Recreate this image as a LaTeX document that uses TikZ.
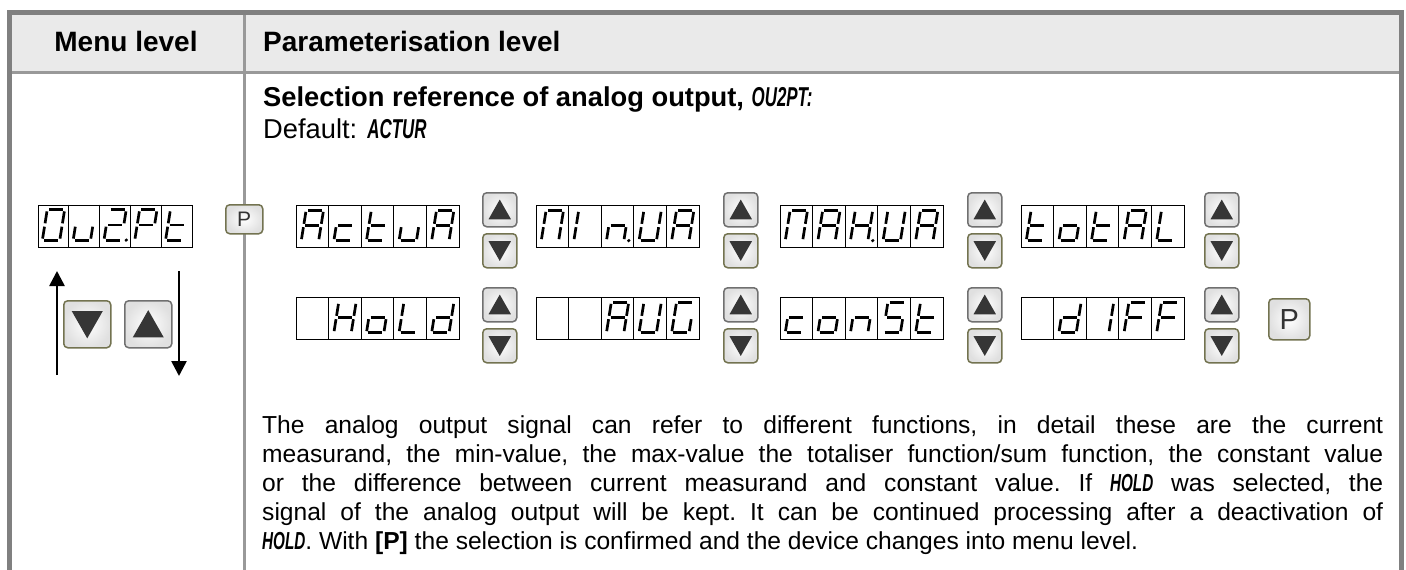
\documentclass[tikz,border=0pt]{standalone}
\usepackage{fontspec}
\setmainfont{Liberation Sans}
\newfontfamily\digifont[FakeStretch=0.62]{Liberation Sans}
\usetikzlibrary{arrows.meta,calc}
\definecolor{framegray}{HTML}{808080}
\definecolor{hdrgray}{HTML}{EAEAEA}
\definecolor{linegray}{HTML}{999999}
\definecolor{olivebd}{HTML}{737350}
\definecolor{graybd}{HTML}{707070}
\definecolor{trigray}{HTML}{363636}
\definecolor{ptext}{HTML}{333333}
\newcommand\digitxt[1]{{\digifont\bfseries\itshape #1}}
\tikzset{
  seg/.style={line width=2.7pt, shorten <=1.7pt, shorten >=1.7pt},
  dispbox/.style={draw=black, line width=1.2pt, inner sep=0pt, anchor=north west},
  celldiv/.style={draw=black, line width=1.2pt},
  btn/.style={rounded corners=4pt, line width=1.5pt, inner color=white, outer color=black!12, inner sep=0pt, anchor=north west},
  btnup/.style={btn, draw=graybd},
  btndn/.style={btn, draw=olivebd},
  pbtn/.style={btn, draw=olivebd, text=ptext},
  trifill/.style={fill=trigray},
  marr/.style={line width=2.6pt, -{Triangle[width=15pt,length=15pt]}},
  hdr/.style={font=\fontsize{28}{30}\selectfont\bfseries, inner sep=0pt},
  bodytxt/.style={font=\fontsize{27.3}{30}\selectfont, inner sep=0pt},
  paratxt/.style={font=\fontsize{24.6}{29}\selectfont, inner sep=0pt},
}
\newcommand\segdraw[1]{%
  \if#1a\draw[seg] (TL)--(TR);\fi
  \if#1b\draw[seg] (TR)--(MR);\fi
  \if#1c\draw[seg] (MR)--(BR);\fi
  \if#1d\draw[seg] (BL)--(BR);\fi
  \if#1e\draw[seg] (BL)--(ML);\fi
  \if#1f\draw[seg] (ML)--(TL);\fi
  \if#1g\draw[seg] (ML)--(MR);\fi
  \if#1p\fill (DP) circle (1.8);\fi
}
\newcommand\sevcell[4]{%
  \begin{scope}[shift={({#1+(#3)/2},{#2+21})}, xslant=0.16]
    \coordinate (TL) at (-8.7,-15.8);
    \coordinate (TR) at (8.7,-15.8);
    \coordinate (ML) at (-8.7,-0.5);
    \coordinate (MR) at (8.7,-0.5);
    \coordinate (BL) at (-8.7,14.8);
    \coordinate (BR) at (8.7,14.8);
    \coordinate (DP) at (13.6,14.6);
    \foreach \s in {#4}{\segdraw{\s}}
  \end{scope}}
\newcommand\sevdisp[9]{%
  \node[dispbox, minimum width=#4pt, minimum height=42pt] (#1) at (#2,#3) {};
  \foreach \k in {1,2,3,4}{\draw[celldiv] ({#2+\k*(#4)/5},#3) -- ({#2+\k*(#4)/5},{#3+42});}
  \sevcell{#2}{#3}{#4/5}{#5}%
  \sevcell{#2+#4/5}{#3}{#4/5}{#6}%
  \sevcell{#2+2*#4/5}{#3}{#4/5}{#7}%
  \sevcell{#2+3*#4/5}{#3}{#4/5}{#8}%
  \sevcell{#2+4*#4/5}{#3}{#4/5}{#9}}
\newcommand\upbtn[4]{%
  \node[btnup, minimum width=#4pt, minimum height=#4pt] (#1) at (#2,#3) {};
  \fill[trifill] ($(#1.center)+(0,{-0.30*#4})$) -- ($(#1.center)+({0.33*#4},{0.28*#4})$) -- ($(#1.center)+({-0.33*#4},{0.28*#4})$) -- cycle;}
\newcommand\dnbtn[4]{%
  \node[btndn, minimum width=#4pt, minimum height=#4pt] (#1) at (#2,#3) {};
  \fill[trifill] ($(#1.center)+(0,{0.30*#4})$) -- ($(#1.center)+({0.33*#4},{-0.28*#4})$) -- ($(#1.center)+({-0.33*#4},{-0.28*#4})$) -- cycle;}
\begin{document}
\begin{tikzpicture}[x=1pt,y=-1pt]
\useasboundingbox[fill=white] (0,0) rectangle (1406,570);
% header
\fill[hdrgray] (9,12.5) rectangle (1401,72.5);
\draw[linegray, line width=2.5pt] (9,72.5) -- (1401,72.5);
\draw[linegray, line width=2.5pt] (244.5,12.5) -- (244.5,570);
\draw[framegray, line width=5pt] (9,570) -- (9,12.5) -- (1401,12.5) -- (1401,570);
\node[hdr, anchor=base] (mh) at (126,51.7) {Menu level};
\node[hdr, anchor=base west] (ph) at (263,51.7) {Parameterisation level};
% titles
\node[bodytxt, anchor=base west, font=\fontsize{27.3}{30}\selectfont\bfseries] (title) at (263,106.7) {Selection reference of analog output, \digitxt{OU2PT:}};
\node[bodytxt, anchor=base west] (deflt) at (263,138.3) {Default: \digitxt{ACTUR}};
% menu display
\sevdisp{d0}{38}{204.5}{154}{a,b,c,d,e,f}{c,d,e}{a,b,g,e,d,p}{a,b,f,g,e}{d,e,f,g}
\node[pbtn, minimum width=37pt, minimum height=29pt, font=\fontsize{21}{21}\selectfont] (p1) at (225,204) {P};
\dnbtn{mdn}{63}{300}{47}
\upbtn{mup}{124}{300}{47}
\coordinate (ua1) at (57,375);
\coordinate (ua2) at (57,271);
\coordinate (da1) at (179,271);
\coordinate (da2) at (179,376);
\draw[marr] (ua1) -- (ua2);
\draw[marr] (da1) -- (da2);
% row 1
\sevdisp{d1}{296}{205}{163}{a,b,c,e,f,g}{d,e,g}{d,e,f,g}{c,d,e}{a,b,c,e,f,g}
\sevdisp{d2}{536}{205}{163}{a,b,c,e,f}{e,f}{c,e,g,p}{b,c,d,e,f}{a,b,c,e,f,g}
\sevdisp{d3}{780}{205}{163}{a,b,c,e,f}{a,b,c,e,f,g}{b,c,e,f,g,p}{b,c,d,e,f}{a,b,c,e,f,g}
\sevdisp{d4}{1021}{205}{163}{d,e,f,g}{c,d,e,g}{d,e,f,g}{a,b,c,e,f,g}{d,e,f}
% row 2
\sevdisp{d5}{296}{297}{163}{x}{b,c,e,f,g}{c,d,e,g}{d,e,f}{b,c,d,e,g}
\sevdisp{d6}{536}{297}{163}{x}{x}{a,b,c,e,f,g}{b,c,d,e,f}{a,c,d,e,f}
\sevdisp{d7}{780}{297}{163}{d,e,g}{c,d,e,g}{c,e,g}{a,c,d,f,g}{d,e,f,g}
\sevdisp{d8}{1021}{297}{163}{x}{b,c,d,e,g}{b,c}{a,e,f,g}{a,e,f,g}
% buttons
\upbtn{u1}{482}{192}{34}\dnbtn{n1}{482}{233}{34}
\upbtn{u2}{723}{192}{34}\dnbtn{n2}{723}{233}{34}
\upbtn{u3}{967}{192}{34}\dnbtn{n3}{967}{233}{34}
\upbtn{u4}{1204}{192}{34}\dnbtn{n4}{1204}{233}{34}
\upbtn{u5}{482}{287}{34}\dnbtn{n5}{482}{328}{34}
\upbtn{u6}{723}{287}{34}\dnbtn{n6}{723}{328}{34}
\upbtn{u7}{967}{287}{34}\dnbtn{n7}{967}{328}{34}
\upbtn{u8}{1204}{287}{34}\dnbtn{n8}{1204}{328}{34}
\node[pbtn, minimum width=41pt, minimum height=41pt, font=\fontsize{29}{29}\selectfont] (p2) at (1268,298) {P};
% paragraph
\node[paratxt, anchor=base west, text width=1121pt, align=justify] (para) at (262,433) {\frenchspacing\hyphenpenalty=10000 The analog output signal can refer to different functions, in detail these are the current\linebreak measurand, the min-value, the max-value the totaliser function/sum function, the constant value\linebreak or the difference between current measurand and constant value. If \digitxt{HOLD} was selected, the\linebreak signal of the analog output will be kept. It can be continued processing after a deactivation of\linebreak \digitxt{HOLD}. With \textbf{[P]} the selection is confirmed and the device changes into menu level.};
\end{tikzpicture}
\end{document}
